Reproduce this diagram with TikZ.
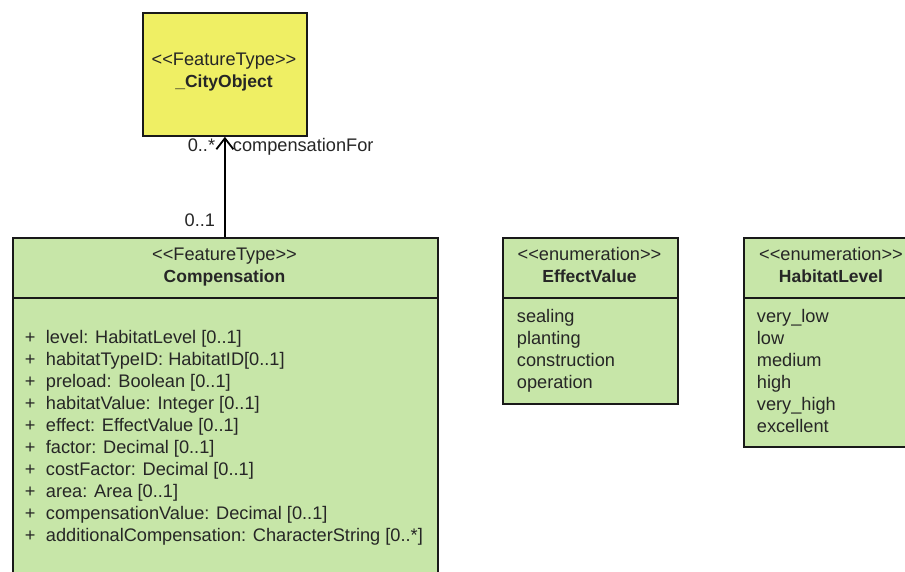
\documentclass[tikz,border=0pt]{standalone}
\usepackage{fontspec}
\setmainfont{Liberation Sans}
\usetikzlibrary{arrows.meta,positioning}

\definecolor{featyellow}{RGB}{239,239,100}
\definecolor{umlgreen}{RGB}{199,230,168}

\def\rowsep{22}
\def\stereo#1{<\kern0pt<#1>\kern0pt>}

\begin{document}
\begin{tikzpicture}[x=1pt,y=-1pt,line width=1.8pt]
    \tikzstyle{box}=[draw=black!90,inner sep=0pt,anchor=north west]
    \tikzstyle{feature box}=[box,fill=featyellow]
    \tikzstyle{class box}=[box,fill=umlgreen]
    \tikzstyle{txt}=[inner sep=0pt,font=\fontsize{18.2}{22}\selectfont,text=black!85]
    \tikzstyle{title}=[txt,font=\fontsize{17.5}{22}\selectfont\bfseries,anchor=base]

    \clip (0,0) rectangle (905,572);

    % The referenced feature type
    \node[feature box,minimum width=164pt,minimum height=123pt] (city) at (142,12) {};
    \node[txt,anchor=base] (city-st) at (224,66) {\stereo{FeatureType}};
    \node[title] (city-name) at (224,88) {\_CityObject};

    % Compensation class
    \node[class box,minimum width=425pt,minimum height=60pt] (comp-head) at (12,237) {};
    \node[class box,minimum width=425pt,minimum height=300pt] (comp-body) at (12,297) {};
    \node[txt,anchor=base] (comp-st) at (224.5,260) {\stereo{FeatureType}};
    \node[title] (comp-name) at (224.5,282) {Compensation};

    % Attributes of Compensation
    \foreach \attr [count=\i] in {{level: HabitatLevel [0..1]},
        {habitatTypeID: HabitatID[0..1]}, {preload: Boolean [0..1]},
        {habitatValue: Integer [0..1]}, {effect: EffectValue [0..1]},
        {factor: Decimal [0..1]}, {costFactor: Decimal [0..1]},
        {area: Area [0..1]}, {compensationValue: Decimal [0..1]},
        {additionalCompensation: CharacterString [0..*]}}
    {
        \node[txt,anchor=base west] (plus-\i) at (24,{343+\rowsep*(\i-1)}) {+};
        \node[txt,anchor=base west] (attr-\i) at (45,{343+\rowsep*(\i-1)}) {\attr};
    }

    % Enumeration EffectValue
    \node[class box,minimum width=175pt,minimum height=60pt] (ev-head) at (502,237) {};
    \node[class box,minimum width=175pt,minimum height=106pt] (ev-body) at (502,297) {};
    \node[txt,anchor=base] (ev-st) at (589.5,261) {\stereo{enumeration}};
    \node[title] (ev-name) at (589.5,283) {EffectValue};
    \foreach \lit [count=\i] in {sealing,planting,construction,operation}
        \node[txt,anchor=base west] (ev-\i) at (516,{322+\rowsep*(\i-1)}) {\lit};

    % Enumeration HabitatLevel
    \node[class box,minimum width=176pt,minimum height=60pt] (hl-head) at (743,237) {};
    \node[class box,minimum width=176pt,minimum height=149pt] (hl-body) at (743,297) {};
    \node[txt,anchor=base] (hl-st) at (831,261) {\stereo{enumeration}};
    \node[title] (hl-name) at (831,283) {HabitatLevel};
    \foreach \lit [count=\i] in {very\_low,low,medium,high,very\_high,excellent}
        \node[txt,anchor=base west] (hl-\i) at (756,{322+\rowsep*(\i-1)}) {\lit};

    % Association to _CityObject
    \draw[-{Straight Barb[length=11pt,width=17pt]}] (city.south |- comp-head.north) -- (city.south);
    \node[txt,anchor=base east] (mult-city) at (216,152) {0..*};
    \node[txt,anchor=base west] (role) at (232,152) {compensationFor};
    \node[txt,anchor=base east] (mult-comp) at (216,227) {0..1};
\end{tikzpicture}
\end{document}
